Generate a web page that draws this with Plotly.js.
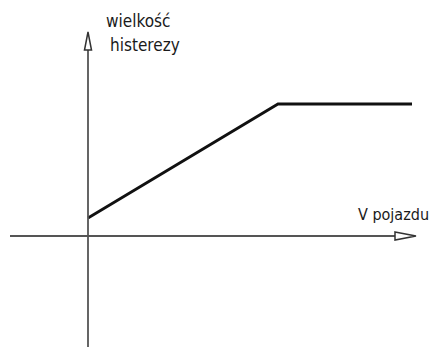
<!DOCTYPE html>
<html>
<head>
<meta charset="utf-8">
<script src="https://cdn.plot.ly/plotly-3.0.1.min.js"></script>
<style>html,body{margin:0;padding:0;background:#fff;}#chart{width:436px;height:347px;}</style>
</head>
<body>
<div id="chart"></div>
<script>
// Qualitative chart: hysteresis size vs vehicle speed
const speed = [0, 190, 324];
const hysteresis = [18, 132, 132];
const xAxisLabel = "V pojazdu";
const yAxisLabel1 = "wielkość";
const yAxisLabel2 = "histerezy";

const axisColor = "#555555";
const font = {family: "DejaVu Sans Condensed, Liberation Sans Narrow, sans-serif", size: 17, color: "#1a1a1a"};
const fontX = {family: "DejaVu Sans Condensed, Liberation Sans Narrow, sans-serif", size: 16, color: "#1a1a1a"};

const trace = {
  x: speed, y: hysteresis, type: "scatter", mode: "lines",
  line: {color: "#111111", width: 2.8}, hoverinfo: "skip", showlegend: false
};

const layout = {
  width: 436, height: 347,
  margin: {l: 0, r: 0, t: 0, b: 0},
  paper_bgcolor: "#ffffff", plot_bgcolor: "#ffffff",
  xaxis: {range: [-88, 348], visible: false, fixedrange: true},
  yaxis: {range: [-111, 236], visible: false, fixedrange: true},
  shapes: [
    {type: "line", xref: "x", yref: "y", x0: -78, y0: 0, x1: 308, y1: 0, line: {color: axisColor, width: 1.8}},
    {type: "path", xref: "x", yref: "y", path: "M 307 4 L 328 0 L 307 -4 Z", fillcolor: "#ffffff", line: {color: "#333333", width: 1.5}},
    {type: "line", xref: "x", yref: "y", x0: 0, y0: -111, x1: 0, y1: 186, line: {color: axisColor, width: 1.8}},
    {type: "path", xref: "x", yref: "y", path: "M -3.5 186 L 0 204 L 3.5 186 Z", fillcolor: "#ffffff", line: {color: "#333333", width: 1.5}}
  ],
  annotations: [
    {xref: "x", yref: "y", x: 16, y: 215, text: yAxisLabel1, showarrow: false, xanchor: "left", yanchor: "middle", font: font},
    {xref: "x", yref: "y", x: 20, y: 191, text: yAxisLabel2, showarrow: false, xanchor: "left", yanchor: "middle", font: font},
    {xref: "x", yref: "y", x: 268, y: 22, text: xAxisLabel, showarrow: false, xanchor: "left", yanchor: "middle", font: fontX}
  ]
};

Plotly.newPlot("chart", [trace], layout, {staticPlot: true, displayModeBar: false});
</script>
</body>
</html>
